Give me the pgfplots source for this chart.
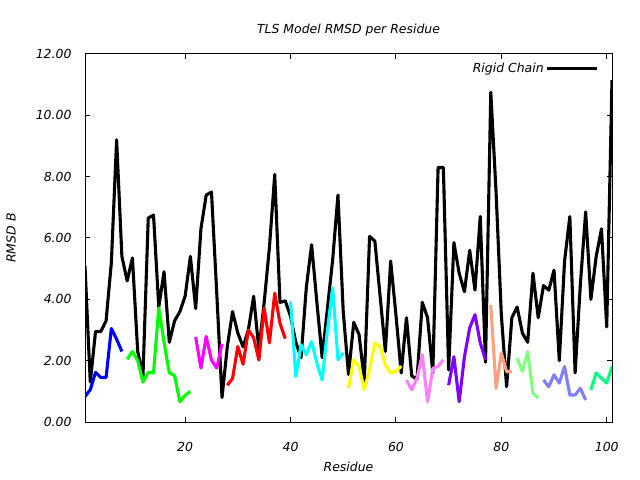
\documentclass[border=0pt]{standalone}
\usepackage{fontspec}
\setmainfont{DejaVu Sans}
\usepackage{pgfplots}
\pgfplotsset{compat=1.18}

\definecolor{segBlue}{HTML}{0000FF}
\definecolor{segLime}{HTML}{00FF00}
\definecolor{segMagenta}{HTML}{FF00FF}
\definecolor{segRed}{HTML}{FF0000}
\definecolor{segCyan}{HTML}{00FFFF}
\definecolor{segYellow}{HTML}{FFFF00}
\definecolor{segPink}{HTML}{FF80FF}
\definecolor{segViolet}{HTML}{8000FF}
\definecolor{segSalmon}{HTML}{FFA080}
\definecolor{segLtGreen}{HTML}{80FF80}
\definecolor{segLtBlue}{HTML}{8080FF}
\definecolor{segSpring}{HTML}{00FF80}

\begin{document}
\begin{tikzpicture}
\useasboundingbox (0,0) rectangle (640bp,480bp);
\begin{axis}[
    at={(85bp,58bp)}, anchor=south west,
    scale only axis,
    width=527bp, height=368bp,
    xmin=1, xmax=101,
    ymin=0, ymax=12,
    xtick={20,40,60,80,100},
    ytick={0,2,4,6,8,10,12},
    tick align=inside,
    xtick pos=both, ytick pos=both,
    major tick length=5bp,
    minor tick num=0,
    axis line style={line width=1bp},
    every tick/.style={line width=1bp, black},
    font=\fontsize{12.5}{15}\selectfont\itshape,
    /pgf/number format/assume math mode=true,
    yticklabel style={/pgf/number format/fixed, /pgf/number format/fixed zerofill,
        /pgf/number format/precision=2, anchor=east, xshift=-10bp},
    xticklabel style={anchor=center, yshift=-25bp},
    title={TLS Model RMSD per Residue},
    title style={at={(0.5,1.0408)}, anchor=base, yshift=0pt},
    xlabel={Residue},
    xlabel style={at={(0.5,-0.1223)}, anchor=center},
    ylabel={RMSD B},
    ylabel style={at={(-0.1404,0.5)}, anchor=center},
    legend plot pos=right,
    legend style={draw=none, fill=none, at={(0.981,0.988)}, anchor=north east,
        font=\fontsize{12.5}{15}\selectfont\itshape},
    legend image code/.code={\path (0bp,0bp) -- (8bp,0bp);
        \draw[#1] (8bp,0bp) -- (50bp,0bp);},
    every axis plot/.append style={line width=3.1bp, line join=round},
]
% Rigid chain
\addplot[black] coordinates {
(1,5.08) (2,1.3) (3,2.95) (4,2.95) (5,3.3) (6,5.2) (7,9.2) (8,5.4) (9,4.6) (10,5.35)
(11,2.3) (12,1.5) (13,6.65) (14,6.75) (15,3.75) (16,4.9) (17,2.6) (18,3.3) (19,3.6) (20,4.1)
(21,5.4) (22,3.7) (23,6.3) (24,7.4) (25,7.5) (26,4.2) (27,0.8) (28,2.45) (29,3.6) (30,2.9)
(31,2.45) (32,3.0) (33,4.1) (34,2.35) (35,3.9) (36,5.7) (37,8.07) (38,3.9) (39,3.95) (40,3.45)
(41,2.6) (42,2.1) (43,4.4) (44,5.78) (45,3.9) (46,2.1) (47,3.7) (48,5.3) (49,7.4) (50,3.6)
(51,1.55) (52,3.25) (53,2.85) (54,1.35) (55,6.05) (56,5.9) (57,4.1) (58,2.3) (59,5.25) (60,3.5)
(61,1.6) (62,3.4) (63,1.5) (64,1.4) (65,3.9) (66,3.4) (67,1.6) (68,8.3) (69,8.3) (70,1.7)
(71,5.85) (72,4.85) (73,4.25) (74,5.6) (75,4.3) (76,6.7) (77,1.95) (78,10.75) (79,7.5) (80,3.5)
(81,1.15) (82,3.4) (83,3.75) (84,2.9) (85,2.6) (86,4.85) (87,3.4) (88,4.45) (89,4.3) (90,4.95)
(91,2.0) (92,5.25) (93,6.7) (94,1.6) (95,4.5) (96,6.85) (97,4.0) (98,5.4) (99,6.3) (100,3.1)
(101,11.15)
};
\addlegendentry{Rigid Chain}

% TLS segments
\addplot[segBlue, forget plot] coordinates {
(1,0.83) (2,1.05) (3,1.62) (4,1.45) (5,1.45) (6,3.05) (7,2.7) (8,2.3)};
\addplot[segLime, forget plot] coordinates {
(9,2.05) (10,2.3) (11,2.0) (12,1.3) (13,1.62) (14,1.6) (15,3.72) (16,2.6) (17,1.6)
(18,1.52) (19,0.66) (20,0.87) (21,1.0)};
\addplot[segMagenta, forget plot] coordinates {
(22,2.77) (23,1.76) (24,2.79) (25,2.02) (26,1.76) (27,2.55)};
\addplot[segRed, forget plot] coordinates {
(28,1.2) (29,1.42) (30,2.46) (31,1.88) (32,3.0) (33,2.75) (34,2.02) (35,3.72) (36,2.58)
(37,4.2) (38,3.22) (39,2.72)};
\addplot[segCyan, forget plot] coordinates {
(40,3.93) (41,1.48) (42,2.52) (43,2.19) (44,2.62) (45,1.92) (46,1.37) (47,3.0) (48,4.37)
(49,2.03) (50,2.25)};
\addplot[segYellow, forget plot] coordinates {
(51,1.1) (52,2.03) (53,1.81) (54,1.05) (55,1.7) (56,2.58) (57,2.46) (58,1.86) (59,1.6)
(60,1.65) (61,1.82)};
\addplot[segPink, forget plot] coordinates {
(62,1.37) (63,1.05) (64,1.43) (65,2.19) (66,0.66) (67,1.75) (68,1.81) (69,2.03)};
\addplot[segViolet, forget plot] coordinates {
(70,1.2) (71,2.13) (72,0.66) (73,2.13) (74,3.07) (75,3.5) (76,2.58) (77,2.03)};
\addplot[segSalmon, forget plot] coordinates {
(78,3.82) (79,1.1) (80,2.25) (81,1.64) (82,1.64)};
\addplot[segLtGreen, forget plot] coordinates {
(83,2.08) (84,1.65) (85,2.3) (86,0.94) (87,0.78)};
\addplot[segLtBlue, forget plot] coordinates {
(88,1.37) (89,1.15) (90,1.54) (91,1.27) (92,1.81) (93,0.88) (94,0.88) (95,1.1) (96,0.72)};
\addplot[segSpring, forget plot] coordinates {
(97,1.05) (98,1.6) (99,1.43) (100,1.27) (101,1.81)};
\end{axis}
\end{tikzpicture}
\end{document}
